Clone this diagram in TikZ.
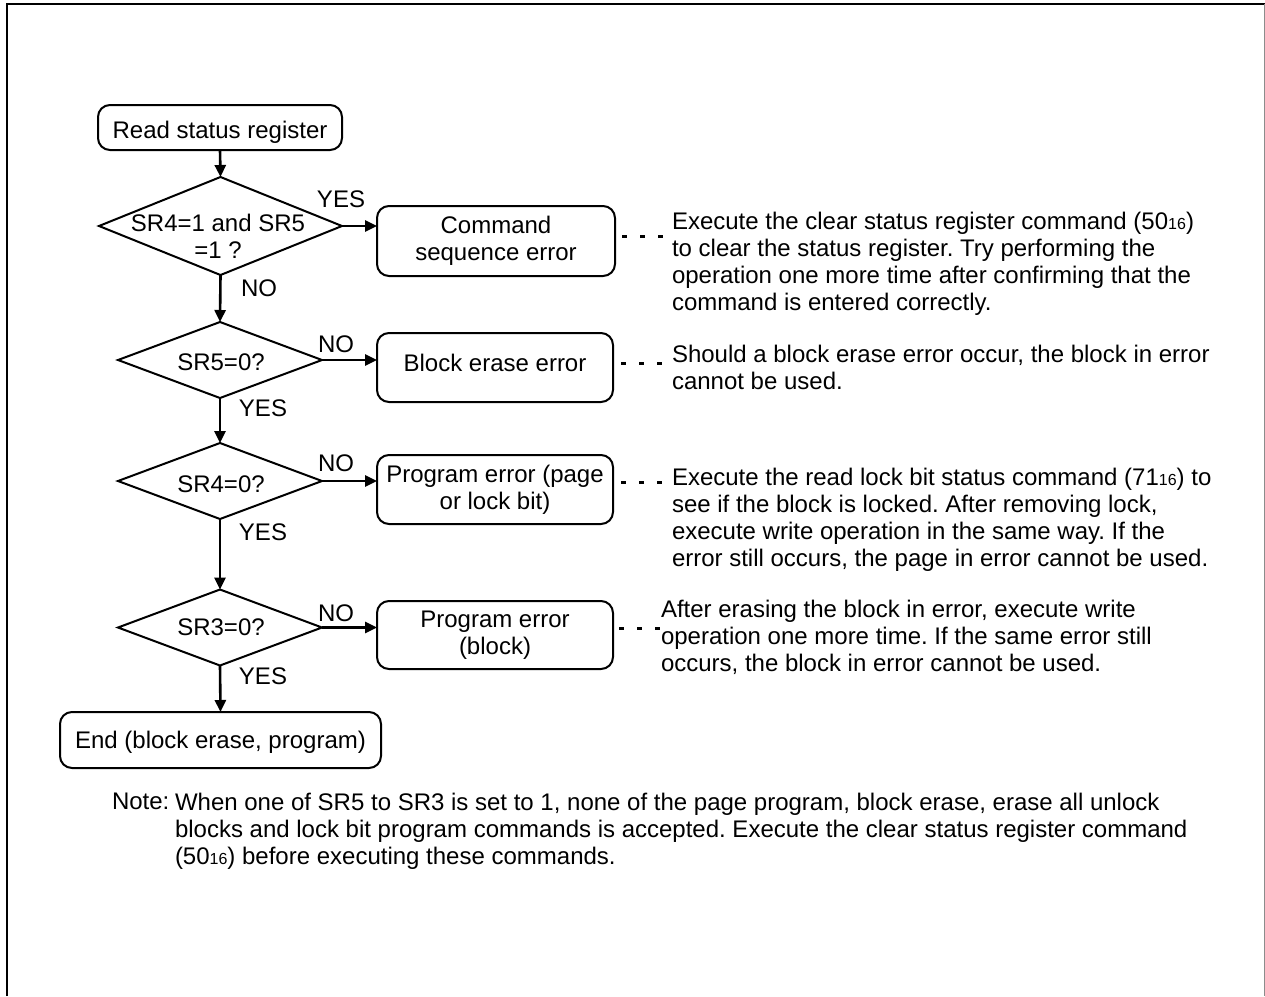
\documentclass[tikz,border=0pt]{standalone}
\usepackage{fontspec}
\setmainfont{Liberation Sans}
\usetikzlibrary{shapes.geometric,arrows.meta,calc}
\newcommand{\smallnum}[1]{{\fontsize{16}{16}\selectfont #1}}
\frenchspacing
\begin{document}
\frenchspacing
\begin{tikzpicture}[x=1pt,y=-1pt,
  every node/.style={font=\fontsize{24}{27}\selectfont\frenchspacing, inner sep=0pt, outer sep=0pt},
  box/.style={draw, rounded corners=12pt, line width=2pt, align=center},
  dia/.style={draw, diamond, line width=2pt, minimum width=204pt, minimum height=76pt},
  arr/.style={line width=2.6pt, -{Triangle[length=12pt,width=11pt]}},
  dotl/.style={line width=3pt, dash pattern=on 5pt off 13pt},
  note/.style={align=left, anchor=north west}]
\useasboundingbox (0,0) rectangle (1265,996);
% frame
\draw[line width=2.5pt] (7,996) -- (7,4) -- (1265,4);
\draw[line width=1pt, black!45] (1264,4) -- (1264,996);

% flow
\node[box, minimum width=244pt, minimum height=45pt, text height=22pt, text depth=0pt] (read) at (220,127.5) {Read status register};
\node[dia, minimum width=243pt, minimum height=98pt] (d1) at (220.5,226) {};
\node[align=center] (d1t) at (218,236) {SR4=1 and SR5\\=1 ?};
\node (yes1) at (341,199) {YES};
\node[box, minimum width=238pt, minimum height=70pt] (b1) at (496,241) {Command\\sequence error};
\node (no1) at (259,288) {NO};

\node[dia] (d2) at (220,360) {};
\node (d2t) at (221,362) {SR5=0?};
\node (no2) at (336,344) {NO};
\node[box, minimum width=236pt, minimum height=69pt, text height=17.2pt, text depth=9pt] (b2) at (495,367.5) {Block erase error};
\node (yes2) at (263,408) {YES};

\node[dia] (d3) at (220,481) {};
\node (d3t) at (221,484) {SR4=0?};
\node (no3) at (336,463) {NO};
\node[box, minimum width=236pt, minimum height=69pt] (b3) at (495,489.5) {Program error (page\\or lock bit)};
\node (yes3) at (263,532) {YES};

\node[dia] (d4) at (220,627.5) {};
\node (d4t) at (221,627) {SR3=0?};
\node (no4) at (336,613) {NO};
\node[box, minimum width=236pt, minimum height=68pt] (b4) at (495,635) {Program error\\(block)};
\node (yes4) at (263,676) {YES};

\node[box, minimum width=321pt, minimum height=56pt, text height=17.2pt, text depth=0pt] (end) at (220.5,740) {End (block erase, program)};

% arrows
\draw[arr] (read.south) -- (d1.north);
\draw[arr] (d1.south) -- (d2.north);
\draw[arr] (d2.south) -- (d3.north);
\draw[arr] (d3.south) -- (d4.north);
\draw[arr] (d4.south) -- (end.north);
\draw[arr] (d1.east) -- (d1.east -| b1.west);
\draw[arr] (d2.east) -- (d2.east -| b2.west);
\draw[arr] (d3.east) -- (d3.east -| b3.west);
\draw[arr] (d4.east) -- (d4.east -| b4.west);

% annotations
\node[note] (n1) at (672,212) {Execute the clear status register command (50\smallnum{16})\\to clear the status register. Try performing the\\operation one more time after confirming that the\\command is entered correctly.};
\node[note] (n2) at (672,345) {Should a block erase error occur, the block in error\\cannot be used.};
\node[note] (n3) at (672,468) {Execute the read lock bit status command (71\smallnum{16}) to\\see if the block is locked. After removing lock,\\execute write operation in the same way. If the\\error still occurs, the page in error cannot be used.};
\node[note] (n4) at (661,600) {After erasing the block in error, execute write\\operation one more time. If the same error still\\occurs, the block in error cannot be used.};

\coordinate (k1) at (0,236);
\coordinate (k2) at (0,363);
\coordinate (k3) at (0,482);
\coordinate (k4) at (0,628);
\draw[dotl] ($(b1.east |- k1)+(7,0)$) -- ($(n1.west |- k1)+(-9,0)$);
\draw[dotl] ($(b2.east |- k2)+(8,0)$) -- ($(n2.west |- k2)+(-9,0)$);
\draw[dotl] ($(b3.east |- k3)+(8,0)$) -- ($(n3.west |- k3)+(-9,0)$);
\draw[dotl] ($(b4.east |- k4)+(6,0)$) -- ($(n4.west |- k4)+(-1,0)$);

% note
\node[note] (notel) at (112,793) {Note:};
\node[note] (noteb) at (175,793) {When one of SR5 to SR3 is set to 1, none of the page program, block erase, erase all unlock\\blocks and lock bit program commands is accepted. Execute the clear status register command\\(50\smallnum{16}) before executing these commands.};
\end{tikzpicture}
\end{document}
